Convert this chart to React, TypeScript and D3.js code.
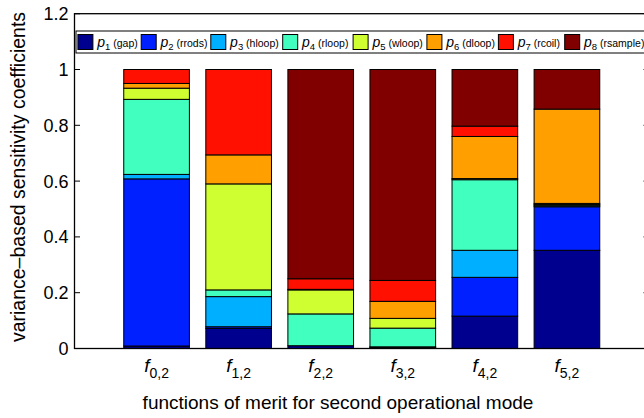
import React from "react";
import * as d3 from "d3";

// ---- data ----
const categories = ["0", "1", "2", "3", "4", "5"];
const seriesKeys = ["p1", "p2", "p3", "p4", "p5", "p6", "p7", "p8"];
const seriesNums = ["1", "2", "3", "4", "5", "6", "7", "8"];
const seriesNames = ["gap", "rrods", "hloop", "rloop", "wloop", "dloop", "rcoil", "rsample"];
const p1 = [0.009, 0.072, 0.010, 0.003, 0.116, 0.352];
const p2 = [0.599, 0.006, 0.000, 0.002, 0.139, 0.156];
const p3 = [0.016, 0.108, 0.000, 0.001, 0.097, 0.004];
const p4 = [0.269, 0.024, 0.114, 0.067, 0.253, 0.004];
const p5 = [0.040, 0.380, 0.086, 0.035, 0.004, 0.004];
const p6 = [0.017, 0.104, 0.002, 0.061, 0.151, 0.338];
const p7 = [0.050, 0.306, 0.038, 0.075, 0.037, 0.000];
const p8 = [0.000, 0.000, 0.750, 0.756, 0.203, 0.142];
const yTicks = [0, 0.2, 0.4, 0.6, 0.8, 1, 1.2];
const yTickLabels = ["0", "0.2", "0.4", "0.6", "0.8", "1", "1.2"];
const colors = ["#00008F", "#0020FF", "#00AFFF", "#40FFBF", "#CFFF30", "#FF9F00", "#FF1000", "#800000"];

// ---- layout (not data) ----
const W = 644, H = 418;
const LEFT = 74.5, RIGHT = 649, TOP = 13.7, BOTTOM = 348.5;
const legendX = [77.9, 141.2, 210.8, 282.7, 353.1, 426.9, 498.4, 564.7];
const FONT = "Liberation Sans, Arial, Helvetica, sans-serif";

export default function App() {
  const series = [p1, p2, p3, p4, p5, p6, p7, p8];
  const rows = categories.map((c, i) => {
    const r: any = { cat: c };
    seriesKeys.forEach((k, j) => (r[k] = series[j][i]));
    return r;
  });
  const stacked = d3.stack().keys(seriesKeys)(rows as any);
  const x = d3.scaleLinear().domain([0, 7]).range([LEFT, RIGHT]);
  const y = d3.scaleLinear().domain([0, 1.2]).range([BOTTOM, TOP]);
  const bw = (x(1) - x(0)) * 0.8;

  return (
    <svg width={W} height={H} style={{ position: "absolute", left: 0, top: 0, background: "#fff" }} fontFamily={FONT}>
      <rect x={0} y={0} width={W} height={H} fill="#fff" />
      {/* bars */}
      {stacked.map((s, j) => (
        <g key={j}>
          {s.map((d, i) => {
            const h = y(d[0]) - y(d[1]);
            if (h <= 0) return null;
            return (
              <rect key={i} x={x(i + 1) - bw / 2} y={y(d[1])} width={bw} height={h}
                fill={colors[j]} stroke="#000" strokeWidth={1} />
            );
          })}
        </g>
      ))}
      {/* frame */}
      <rect x={LEFT} y={TOP} width={RIGHT - LEFT} height={BOTTOM - TOP} fill="none" stroke="#000" strokeWidth={1.3} />
      {yTicks.map((t, i) => (
        <g key={i}>
          <line x1={LEFT} x2={LEFT + 5.5} y1={y(t)} y2={y(t)} stroke="#000" strokeWidth={1} />
          <line x1={RIGHT} x2={RIGHT - 5.5} y1={y(t)} y2={y(t)} stroke="#000" strokeWidth={1} />
          <text x={LEFT - 6} y={y(t)} dy="0.36em" textAnchor="end" fontSize={18} fill="#000">{yTickLabels[i]}</text>
        </g>
      ))}
      {/* x tick labels */}
      {categories.map((c, i) => (
        <text key={i} x={x(i + 1)} y={372} textAnchor="middle" fill="#000">
          <tspan fontStyle="italic" fontSize={19}>f</tspan>
          <tspan fontSize={14} dy={6}>{c},2</tspan>
        </text>
      ))}
      {/* axis labels */}
      <text x={338} y={409} textAnchor="middle" fontSize={19} fill="#000">functions of merit for second operational mode</text>
      <text transform={`translate(25,${177}) rotate(-90)`} textAnchor="middle" fontSize={19.5} fill="#000">variance–based sensitivity coefficients</text>
      {/* legend */}
      <rect x={LEFT + 1.5} y={31} width={RIGHT - LEFT - 3} height={22} fill="#fff" stroke="#000" strokeWidth={1} />
      {seriesKeys.map((k, j) => (
        <g key={k}>
          <rect x={legendX[j]} y={34.5} width={15} height={15} fill={colors[j]} stroke="#000" strokeWidth={1} />
          <text x={legendX[j] + 19.3} y={47} fill="#000">
            <tspan fontStyle="italic" fontSize={14}>p</tspan>
            <tspan fontSize={9.5} dy={3}>{seriesNums[j]}</tspan>
            <tspan fontSize={10.5} dy={-3}> ({seriesNames[j]})</tspan>
          </text>
        </g>
      ))}
    </svg>
  );
}
